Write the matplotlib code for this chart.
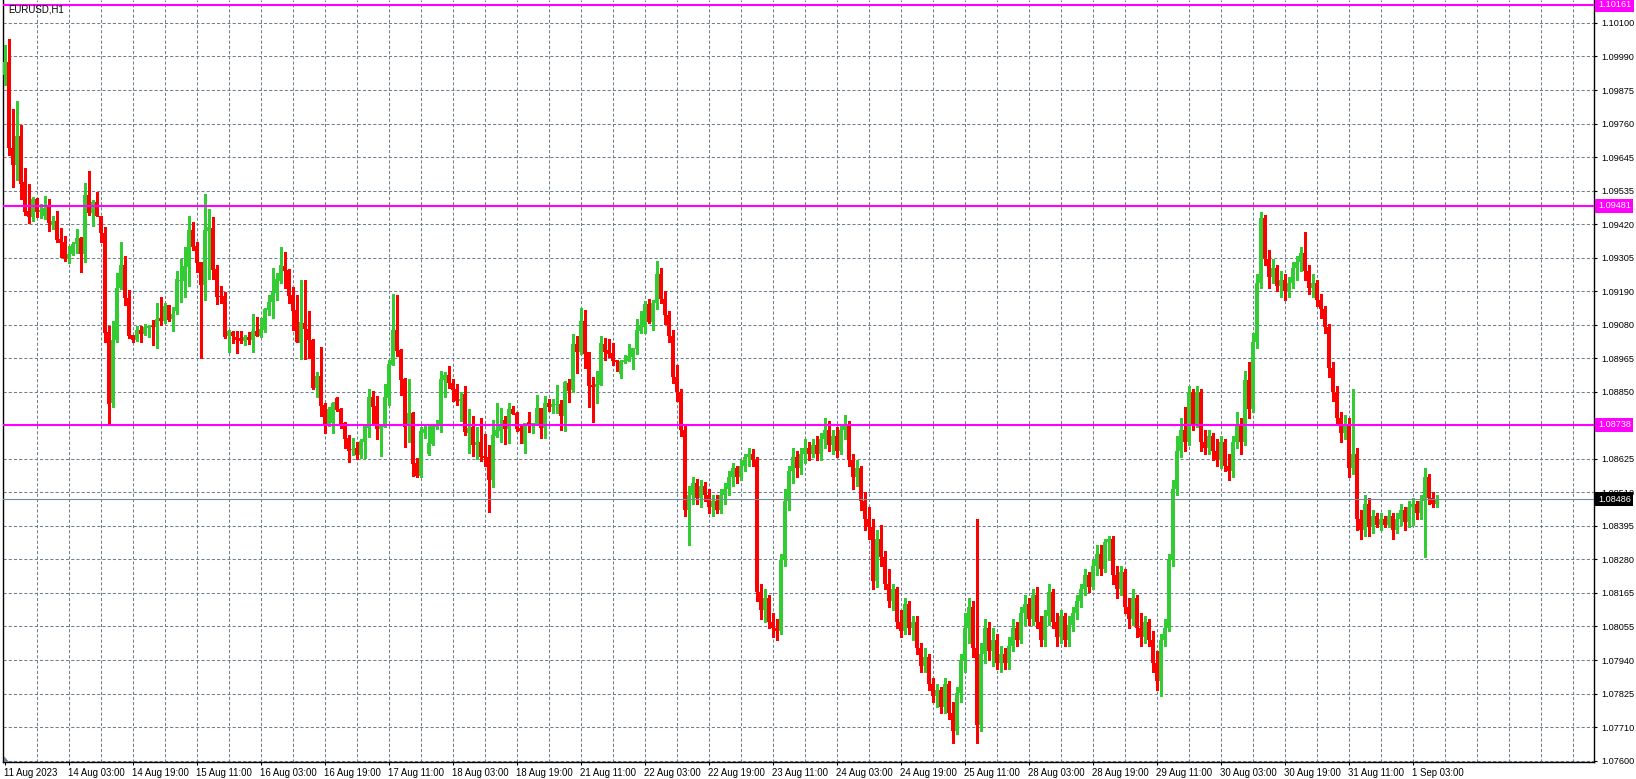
import matplotlib
matplotlib.use("Agg")
import matplotlib.pyplot as plt
import matplotlib.transforms as mtransforms
from matplotlib.patches import Polygon
import numpy as np

symbol_title = "EURUSD,H1"

date_labels = ["11 Aug 2023", "14 Aug 03:00", "14 Aug 19:00", "15 Aug 11:00", "16 Aug 03:00",
               "16 Aug 19:00", "17 Aug 11:00", "18 Aug 03:00", "18 Aug 19:00", "21 Aug 11:00",
               "22 Aug 03:00", "22 Aug 19:00", "23 Aug 11:00", "24 Aug 03:00", "24 Aug 19:00",
               "25 Aug 11:00", "28 Aug 03:00", "28 Aug 19:00", "29 Aug 11:00", "30 Aug 03:00",
               "30 Aug 19:00", "31 Aug 11:00", "1 Sep 03:00"]

# price scale labels, bottom to top (the one under the 1.08738 level tag is hidden)
price_tick_labels = ["1.07600", "1.07710", "1.07825", "1.07940", "1.08055", "1.08165", "1.08280",
                     "1.08395", "1.08510", "1.08625", "", "1.08850", "1.08965", "1.09080",
                     "1.09190", "1.09305", "1.09420", "1.09535", "1.09645", "1.09760", "1.09875",
                     "1.09990", "1.10100"]
price_scale_min = 1.07600
price_scale_max = 1.10100

level_lines = [1.10161, 1.09481, 1.08738]
bid_price = 1.08486

opens = [
    1.09923, 1.09969, 1.09677, 1.09618, 1.09717, 1.09561, 1.09462, 1.09443, 1.09503, 1.09460,
    1.09447, 1.09476, 1.09415, 1.09429, 1.09369, 1.09357, 1.09301, 1.09316, 1.09352, 1.09371,
    1.09316, 1.09517, 1.09457, 1.09492, 1.09446, 1.09387, 1.09052, 1.08813, 1.09027, 1.09203,
    1.09279, 1.09169, 1.09042, 1.09025, 1.09059, 1.09046, 1.09065, 1.09073, 1.09070, 1.09100,
    1.09091, 1.09144, 1.09096, 1.09124, 1.09225, 1.09225, 1.09274, 1.09398, 1.09344, 1.09289,
    1.09212, 1.09395, 1.09406, 1.09266, 1.09174, 1.09174, 1.09039, 1.09053, 1.09037, 1.09033,
    1.09022, 1.09037, 1.09027, 1.09057, 1.09040, 1.09059, 1.09127, 1.09155, 1.09186, 1.09226,
    1.09276, 1.09264, 1.09178, 1.09127, 1.09016, 1.09084, 1.09063, 1.09025, 1.08864, 1.08903,
    1.08805, 1.08739, 1.08743, 1.08828, 1.08790, 1.08743, 1.08692, 1.08652, 1.08658, 1.08635,
    1.08681, 1.08728, 1.08833, 1.08803, 1.08724, 1.08732, 1.08828, 1.08941, 1.09059, 1.08991,
    1.08893, 1.08735, 1.08779, 1.08607, 1.08565, 1.08709, 1.08639, 1.08672, 1.08732, 1.08737,
    1.08890, 1.08907, 1.08881, 1.08859, 1.08820, 1.08842, 1.08711, 1.08732, 1.08669, 1.08681,
    1.08632, 1.08628, 1.08551, 1.08700, 1.08718, 1.08754, 1.08724, 1.08791, 1.08779, 1.08726,
    1.08672, 1.08746, 1.08737, 1.08740, 1.08794, 1.08728, 1.08811, 1.08799, 1.08806, 1.08808,
    1.08768, 1.08881, 1.08856, 1.09012, 1.08986, 1.09090, 1.08986, 1.08874, 1.08867, 1.08873,
    1.09012, 1.08991, 1.08982, 1.08957, 1.08910, 1.08952, 1.08955, 1.08969, 1.08995, 1.09056,
    1.09070, 1.09147, 1.09087, 1.09150, 1.09250, 1.09165, 1.09110, 1.09040, 1.08900, 1.08850,
    1.08720, 1.08450, 1.08500, 1.08540, 1.08490, 1.08530, 1.08500, 1.08460, 1.08480, 1.08450,
    1.08500, 1.08520, 1.08560, 1.08590, 1.08560, 1.08600, 1.08630, 1.08640, 1.08620, 1.08170,
    1.08110, 1.08150, 1.08070, 1.08050, 1.08040, 1.08280, 1.08480, 1.08580, 1.08630, 1.08590,
    1.08640, 1.08660, 1.08640, 1.08670, 1.08640, 1.08690, 1.08720, 1.08670, 1.08700, 1.08650,
    1.08720, 1.08740, 1.08620, 1.08560, 1.08590, 1.08480, 1.08420, 1.08390, 1.08210, 1.08350,
    1.08290, 1.08200, 1.08140, 1.08180, 1.08070, 1.08040, 1.08130, 1.08050, 1.08070, 1.07980,
    1.07920, 1.07950, 1.07860, 1.07820, 1.07840, 1.07780, 1.07860, 1.07760, 1.07700, 1.07830,
    1.07940, 1.08050, 1.08120, 1.07980, 1.07720, 1.07960, 1.08050, 1.07970, 1.08010, 1.07930,
    1.07960, 1.07930, 1.07990, 1.08050, 1.08010, 1.08100, 1.08130, 1.08080, 1.08160, 1.08070,
    1.08010, 1.08090, 1.08170, 1.08070, 1.08020, 1.08090, 1.08010, 1.08060, 1.08100, 1.08140,
    1.08180, 1.08230, 1.08190, 1.08260, 1.08300, 1.08250, 1.08340, 1.08350, 1.08230, 1.08180,
    1.08240, 1.08120, 1.08080, 1.08150, 1.08050, 1.08020, 1.08070, 1.08010, 1.07930, 1.07870,
    1.08010, 1.08050, 1.08280, 1.08520, 1.08650, 1.08720, 1.08680, 1.08850, 1.08740, 1.08850,
    1.08680, 1.08660, 1.08700, 1.08650, 1.08620, 1.08680, 1.08600, 1.08580, 1.08680, 1.08740,
    1.08680, 1.08890, 1.08790, 1.09020, 1.09220, 1.09440, 1.09300, 1.09240, 1.09270, 1.09210,
    1.09230, 1.09190, 1.09220, 1.09270, 1.09290, 1.09320, 1.09260, 1.09200, 1.09220, 1.09160,
    1.09130, 1.09070, 1.08930, 1.08850, 1.08760, 1.08710, 1.08740, 1.08590, 1.08640, 1.08420,
    1.08380, 1.08470, 1.08390, 1.08430, 1.08400, 1.08420, 1.08400, 1.08430, 1.08380, 1.08420,
    1.08450, 1.08410, 1.08460, 1.08470, 1.08440, 1.08480, 1.08560, 1.08490, 1.08470,
]

highs = [
    1.10025, 1.10044, 1.09808, 1.09835, 1.09754, 1.09610, 1.09554, 1.09511, 1.09508, 1.09486,
    1.09513, 1.09503, 1.09446, 1.09462, 1.09406, 1.09378, 1.09344, 1.09356, 1.09401, 1.09375,
    1.09556, 1.09598, 1.09500, 1.09526, 1.09446, 1.09407, 1.09073, 1.09090, 1.09251, 1.09356,
    1.09309, 1.09195, 1.09044, 1.09073, 1.09074, 1.09078, 1.09076, 1.09093, 1.09152, 1.09170,
    1.09150, 1.09144, 1.09138, 1.09259, 1.09300, 1.09340, 1.09446, 1.09426, 1.09359, 1.09289,
    1.09520, 1.09469, 1.09441, 1.09279, 1.09208, 1.09189, 1.09058, 1.09057, 1.09056, 1.09056,
    1.09044, 1.09053, 1.09113, 1.09104, 1.09099, 1.09133, 1.09178, 1.09271, 1.09251, 1.09342,
    1.09322, 1.09266, 1.09206, 1.09178, 1.09229, 1.09229, 1.09124, 1.09028, 1.08918, 1.09003,
    1.08811, 1.08799, 1.08814, 1.08833, 1.08794, 1.08746, 1.08703, 1.08695, 1.08681, 1.08689,
    1.08737, 1.08861, 1.08852, 1.08835, 1.08737, 1.08876, 1.08958, 1.09180, 1.09178, 1.08995,
    1.08895, 1.08893, 1.08782, 1.08626, 1.08732, 1.08735, 1.08737, 1.08737, 1.08754, 1.08920,
    1.08916, 1.08937, 1.08893, 1.08876, 1.08848, 1.08871, 1.08791, 1.08768, 1.08732, 1.08762,
    1.08706, 1.08669, 1.08756, 1.08813, 1.08796, 1.08768, 1.08813, 1.08803, 1.08782, 1.08734,
    1.08745, 1.08782, 1.08745, 1.08839, 1.08796, 1.08835, 1.08825, 1.08825, 1.08873, 1.08822,
    1.08886, 1.08893, 1.09046, 1.09039, 1.09135, 1.09127, 1.08986, 1.08900, 1.08920, 1.09040,
    1.09031, 1.09029, 1.09016, 1.08957, 1.08957, 1.08974, 1.09012, 1.09000, 1.09096, 1.09124,
    1.09159, 1.09164, 1.09160, 1.09294, 1.09270, 1.09190, 1.09125, 1.09060, 1.08940, 1.08860,
    1.08740, 1.08530, 1.08560, 1.08555, 1.08550, 1.08545, 1.08520, 1.08500, 1.08500, 1.08520,
    1.08540, 1.08580, 1.08610, 1.08600, 1.08620, 1.08640, 1.08660, 1.08655, 1.08630, 1.08200,
    1.08180, 1.08160, 1.08100, 1.08080, 1.08300, 1.08520, 1.08600, 1.08660, 1.08650, 1.08660,
    1.08690, 1.08680, 1.08690, 1.08700, 1.08710, 1.08760, 1.08750, 1.08720, 1.08730, 1.08740,
    1.08770, 1.08750, 1.08640, 1.08620, 1.08600, 1.08510, 1.08460, 1.08420, 1.08380, 1.08400,
    1.08310, 1.08250, 1.08200, 1.08190, 1.08110, 1.08150, 1.08140, 1.08090, 1.08090, 1.08000,
    1.07980, 1.07960, 1.07880, 1.07860, 1.07850, 1.07880, 1.07870, 1.07800, 1.07850, 1.07960,
    1.08100, 1.08150, 1.08140, 1.08420, 1.08000, 1.08080, 1.08070, 1.08050, 1.08030, 1.07990,
    1.07980, 1.08020, 1.08080, 1.08070, 1.08120, 1.08160, 1.08150, 1.08180, 1.08190, 1.08090,
    1.08110, 1.08200, 1.08180, 1.08100, 1.08110, 1.08100, 1.08090, 1.08120, 1.08160, 1.08200,
    1.08250, 1.08240, 1.08280, 1.08330, 1.08330, 1.08350, 1.08360, 1.08360, 1.08260, 1.08260,
    1.08250, 1.08150, 1.08180, 1.08160, 1.08100, 1.08090, 1.08080, 1.08040, 1.07970, 1.08030,
    1.08080, 1.08300, 1.08550, 1.08700, 1.08760, 1.08800, 1.08870, 1.08860, 1.08870, 1.08860,
    1.08720, 1.08720, 1.08710, 1.08690, 1.08700, 1.08690, 1.08640, 1.08700, 1.08780, 1.08760,
    1.08920, 1.08950, 1.09050, 1.09250, 1.09460, 1.09450, 1.09330, 1.09300, 1.09280, 1.09260,
    1.09250, 1.09240, 1.09290, 1.09310, 1.09340, 1.09390, 1.09280, 1.09250, 1.09230, 1.09180,
    1.09140, 1.09080, 1.08950, 1.08870, 1.08780, 1.08770, 1.08760, 1.08860, 1.08660, 1.08450,
    1.08500, 1.08490, 1.08450, 1.08440, 1.08440, 1.08430, 1.08450, 1.08440, 1.08440, 1.08470,
    1.08460, 1.08480, 1.08490, 1.08480, 1.08500, 1.08590, 1.08570, 1.08510, 1.08500,
]

lows = [
    1.09890, 1.09652, 1.09545, 1.09568, 1.09505, 1.09449, 1.09423, 1.09430, 1.09443, 1.09440,
    1.09435, 1.09396, 1.09401, 1.09356, 1.09308, 1.09294, 1.09287, 1.09313, 1.09319, 1.09257,
    1.09291, 1.09449, 1.09413, 1.09447, 1.09358, 1.09017, 1.08743, 1.08797, 1.09019, 1.09197,
    1.09144, 1.09033, 1.09020, 1.09022, 1.09020, 1.09042, 1.09037, 1.09008, 1.08999, 1.09076,
    1.09082, 1.09091, 1.09057, 1.09112, 1.09153, 1.09172, 1.09209, 1.09330, 1.09257, 1.08965,
    1.09161, 1.09232, 1.09232, 1.09146, 1.09150, 1.09031, 1.08986, 1.09016, 1.08982, 1.09014,
    1.09008, 1.09011, 1.08986, 1.09040, 1.09037, 1.09054, 1.09110, 1.09099, 1.09161, 1.09220,
    1.09200, 1.09152, 1.09059, 1.09020, 1.08960, 1.08960, 1.08963, 1.08861, 1.08833, 1.08769,
    1.08711, 1.08735, 1.08711, 1.08786, 1.08728, 1.08661, 1.08613, 1.08635, 1.08622, 1.08624,
    1.08624, 1.08698, 1.08745, 1.08690, 1.08632, 1.08732, 1.08805, 1.08941, 1.08972, 1.08839,
    1.08664, 1.08681, 1.08565, 1.08562, 1.08562, 1.08694, 1.08636, 1.08669, 1.08724, 1.08715,
    1.08833, 1.08862, 1.08819, 1.08805, 1.08751, 1.08703, 1.08641, 1.08633, 1.08622, 1.08616,
    1.08598, 1.08443, 1.08526, 1.08698, 1.08681, 1.08673, 1.08677, 1.08773, 1.08718, 1.08677,
    1.08643, 1.08715, 1.08711, 1.08737, 1.08692, 1.08694, 1.08785, 1.08777, 1.08779, 1.08720,
    1.08718, 1.08816, 1.08850, 1.08915, 1.08977, 1.08932, 1.08799, 1.08748, 1.08813, 1.08873,
    1.08957, 1.08969, 1.08941, 1.08920, 1.08898, 1.08946, 1.08955, 1.08927, 1.08978, 1.09050,
    1.09050, 1.09082, 1.09060, 1.09130, 1.09150, 1.09080, 1.09020, 1.08880, 1.08820, 1.08700,
    1.08430, 1.08330, 1.08470, 1.08470, 1.08460, 1.08480, 1.08440, 1.08430, 1.08440, 1.08440,
    1.08470, 1.08500, 1.08530, 1.08540, 1.08550, 1.08580, 1.08600, 1.08600, 1.08140, 1.08080,
    1.08070, 1.08050, 1.08020, 1.08010, 1.08030, 1.08260, 1.08450, 1.08540, 1.08560, 1.08570,
    1.08610, 1.08620, 1.08630, 1.08620, 1.08620, 1.08660, 1.08650, 1.08640, 1.08630, 1.08640,
    1.08690, 1.08600, 1.08520, 1.08530, 1.08450, 1.08380, 1.08350, 1.08180, 1.08190, 1.08260,
    1.08180, 1.08120, 1.08110, 1.08050, 1.08020, 1.08030, 1.08030, 1.08010, 1.07960, 1.07900,
    1.07900, 1.07840, 1.07800, 1.07780, 1.07760, 1.07760, 1.07740, 1.07660, 1.07690, 1.07800,
    1.07900, 1.08000, 1.07950, 1.07660, 1.07700, 1.07930, 1.07940, 1.07920, 1.07910, 1.07900,
    1.07910, 1.07910, 1.07970, 1.07990, 1.08000, 1.08060, 1.08060, 1.08060, 1.08050, 1.07990,
    1.07990, 1.08060, 1.08050, 1.07990, 1.08000, 1.07990, 1.07990, 1.08040, 1.08080, 1.08120,
    1.08160, 1.08170, 1.08180, 1.08230, 1.08230, 1.08240, 1.08280, 1.08200, 1.08150, 1.08160,
    1.08100, 1.08050, 1.08060, 1.08020, 1.07990, 1.08000, 1.07990, 1.07900, 1.07840, 1.07820,
    1.07990, 1.08040, 1.08260, 1.08500, 1.08630, 1.08650, 1.08670, 1.08720, 1.08730, 1.08650,
    1.08640, 1.08640, 1.08620, 1.08600, 1.08590, 1.08580, 1.08550, 1.08560, 1.08660, 1.08640,
    1.08670, 1.08760, 1.08780, 1.09000, 1.09200, 1.09280, 1.09200, 1.09220, 1.09190, 1.09170,
    1.09160, 1.09170, 1.09200, 1.09230, 1.09260, 1.09230, 1.09180, 1.09170, 1.09140, 1.09100,
    1.09050, 1.08900, 1.08820, 1.08740, 1.08680, 1.08690, 1.08560, 1.08570, 1.08380, 1.08350,
    1.08360, 1.08360, 1.08370, 1.08390, 1.08380, 1.08390, 1.08390, 1.08350, 1.08370, 1.08400,
    1.08380, 1.08390, 1.08400, 1.08420, 1.08420, 1.08290, 1.08470, 1.08460, 1.08460,
]

closes = [
    1.09969, 1.09675, 1.09618, 1.09717, 1.09554, 1.09460, 1.09443, 1.09503, 1.09460, 1.09466,
    1.09474, 1.09421, 1.09430, 1.09364, 1.09355, 1.09301, 1.09318, 1.09352, 1.09371, 1.09316,
    1.09517, 1.09457, 1.09492, 1.09447, 1.09387, 1.09050, 1.08810, 1.09027, 1.09203, 1.09279,
    1.09169, 1.09040, 1.09025, 1.09059, 1.09046, 1.09068, 1.09073, 1.09068, 1.09095, 1.09090,
    1.09141, 1.09093, 1.09113, 1.09231, 1.09229, 1.09276, 1.09398, 1.09342, 1.09287, 1.09212,
    1.09398, 1.09409, 1.09263, 1.09172, 1.09172, 1.09035, 1.09056, 1.09039, 1.09025, 1.09022,
    1.09037, 1.09025, 1.09057, 1.09040, 1.09063, 1.09130, 1.09155, 1.09189, 1.09232, 1.09280,
    1.09259, 1.09176, 1.09125, 1.09020, 1.09087, 1.09063, 1.09025, 1.08864, 1.08904, 1.08803,
    1.08739, 1.08791, 1.08811, 1.08788, 1.08739, 1.08690, 1.08650, 1.08656, 1.08635, 1.08683,
    1.08734, 1.08833, 1.08799, 1.08724, 1.08735, 1.08833, 1.08944, 1.09059, 1.08989, 1.08890,
    1.08732, 1.08779, 1.08605, 1.08565, 1.08717, 1.08724, 1.08677, 1.08734, 1.08740, 1.08893,
    1.08907, 1.08881, 1.08856, 1.08820, 1.08825, 1.08715, 1.08726, 1.08669, 1.08681, 1.08628,
    1.08626, 1.08551, 1.08703, 1.08720, 1.08740, 1.08724, 1.08791, 1.08775, 1.08723, 1.08718,
    1.08743, 1.08735, 1.08743, 1.08794, 1.08728, 1.08811, 1.08799, 1.08808, 1.08808, 1.08768,
    1.08884, 1.08854, 1.09012, 1.08986, 1.09090, 1.08978, 1.08870, 1.08867, 1.08876, 1.09016,
    1.08986, 1.08978, 1.08955, 1.08950, 1.08955, 1.08957, 1.08971, 1.09000, 1.09059, 1.09073,
    1.09147, 1.09087, 1.09150, 1.09250, 1.09165, 1.09110, 1.09040, 1.08900, 1.08850, 1.08720,
    1.08450, 1.08500, 1.08540, 1.08490, 1.08530, 1.08500, 1.08460, 1.08480, 1.08450, 1.08500,
    1.08520, 1.08560, 1.08590, 1.08560, 1.08600, 1.08630, 1.08640, 1.08620, 1.08170, 1.08110,
    1.08150, 1.08070, 1.08050, 1.08040, 1.08280, 1.08480, 1.08580, 1.08630, 1.08590, 1.08640,
    1.08660, 1.08640, 1.08670, 1.08640, 1.08690, 1.08720, 1.08670, 1.08700, 1.08650, 1.08720,
    1.08740, 1.08620, 1.08560, 1.08590, 1.08480, 1.08420, 1.08390, 1.08210, 1.08350, 1.08290,
    1.08200, 1.08140, 1.08180, 1.08070, 1.08040, 1.08130, 1.08050, 1.08070, 1.07980, 1.07920,
    1.07950, 1.07860, 1.07820, 1.07840, 1.07780, 1.07860, 1.07760, 1.07700, 1.07830, 1.07940,
    1.08050, 1.08120, 1.07980, 1.07720, 1.07960, 1.08050, 1.07970, 1.08010, 1.07930, 1.07960,
    1.07930, 1.07990, 1.08050, 1.08010, 1.08100, 1.08130, 1.08080, 1.08160, 1.08070, 1.08010,
    1.08090, 1.08170, 1.08070, 1.08020, 1.08090, 1.08010, 1.08060, 1.08100, 1.08140, 1.08180,
    1.08230, 1.08190, 1.08260, 1.08300, 1.08250, 1.08340, 1.08350, 1.08230, 1.08180, 1.08240,
    1.08120, 1.08080, 1.08150, 1.08050, 1.08020, 1.08070, 1.08010, 1.07930, 1.07870, 1.08010,
    1.08050, 1.08280, 1.08520, 1.08650, 1.08720, 1.08680, 1.08850, 1.08740, 1.08850, 1.08680,
    1.08660, 1.08700, 1.08650, 1.08620, 1.08680, 1.08600, 1.08580, 1.08680, 1.08740, 1.08680,
    1.08890, 1.08790, 1.09020, 1.09220, 1.09440, 1.09300, 1.09240, 1.09270, 1.09210, 1.09230,
    1.09190, 1.09220, 1.09270, 1.09290, 1.09320, 1.09260, 1.09200, 1.09220, 1.09160, 1.09130,
    1.09070, 1.08930, 1.08850, 1.08760, 1.08710, 1.08740, 1.08590, 1.08640, 1.08420, 1.08380,
    1.08470, 1.08390, 1.08430, 1.08400, 1.08420, 1.08400, 1.08430, 1.08380, 1.08420, 1.08450,
    1.08410, 1.08460, 1.08470, 1.08440, 1.08480, 1.08560, 1.08490, 1.08470, 1.08486,
]

# ---------------------------------------------------------------- layout
W, H = 1636, 779
FONT = "Liberation Sans"
fig = plt.figure(figsize=(W / 100, H / 100), dpi=100)
fig.patch.set_facecolor("white")
ax_left, ax_right, ax_bottom = 3, 1594, 17
ax = fig.add_axes([ax_left / W, ax_bottom / H, (ax_right - ax_left) / W, (H - ax_bottom) / H])
ax.set_facecolor("white")

o = np.array(opens); h = np.array(highs); l = np.array(lows); c = np.array(closes)
n = min(len(o), len(h), len(l), len(c))
o, h, l, c = o[:n], h[:n], l[:n], c[:n]
x = np.arange(n)

tick_vals = np.linspace(price_scale_min, price_scale_max, len(price_tick_labels))
step = tick_vals[1] - tick_vals[0]
px_per_price = 33.53 / step
y_bottom = price_scale_min - 1.4 / px_per_price
y_top = price_scale_min + 760.6 / px_per_price
ax.set_ylim(y_bottom, y_top)
ax.set_xlim(-0.375, -0.375 + (ax_right - ax_left) / 4.0)

grid_col = "#708090"
for tv in tick_vals:
    ax.axhline(tv, color=grid_col, lw=0.75, ls=(0, (3, 2)), zorder=1)
for k in range(1, 60):
    gx = 8 * k
    if gx > ax.get_xlim()[1]:
        break
    ax.axvline(gx, color=grid_col, lw=0.75, ls=(0, (3, 2)), zorder=1)

# candles
bull = "#32CD32"
bear = "#FF0000"
colors = [bull if cc >= oo else bear for oo, cc in zip(o, c)]
bottoms = np.minimum(o, c)
heights = np.maximum(np.abs(c - o), 1.0 / px_per_price)
ax.vlines(x, l, h, colors=colors, linewidth=0.75, zorder=3, antialiased=False)
ax.bar(x, heights, bottom=bottoms, width=0.75, color=colors, linewidth=0, zorder=4,
       antialiased=False)

# level lines
for lv in level_lines:
    ax.axhline(lv, color="#FF00FF", lw=1.5, zorder=5)
ax.axhline(bid_price, color="#778899", lw=0.8, zorder=5)

trans = mtransforms.blended_transform_factory(ax.transAxes, ax.transData)
tag_x = 1.0 + 4 / (ax_right - ax_left)
for lv in level_lines:
    ax.text(tag_x, lv, f"{lv:.5f}", transform=trans, ha="left",
            va="center", color="white", fontsize=6.6, family=FONT, zorder=10, clip_on=False,
            bbox=dict(boxstyle="square,pad=0.28", fc="#FF00FF", ec="none"))
ax.text(tag_x, bid_price, f"{bid_price:.5f}", transform=trans,
        ha="left", va="center", color="white", fontsize=6.6, family=FONT, zorder=10,
        clip_on=False, bbox=dict(boxstyle="square,pad=0.28", fc="black", ec="none"))

# axes / ticks
for side in ["left", "right", "bottom"]:
    ax.spines[side].set_color("black")
    ax.spines[side].set_linewidth(1.0)
ax.spines["top"].set_visible(False)

ax.yaxis.tick_right()
ax.set_yticks(tick_vals)
ax.set_yticklabels(price_tick_labels, family=FONT, fontsize=6.6)
ax.tick_params(axis="y", direction="out", length=2.5, width=0.8, pad=2.5, colors="black")

date_pos = [16 * k for k in range(len(date_labels))]
ax.set_xticks(date_pos)
ax.set_xticklabels(date_labels, family=FONT, fontsize=6.9, ha="left")
ax.tick_params(axis="x", direction="out", length=2.5, width=0.8, pad=1.5, colors="black")

fig.text(8 / W, 1 - 4 / H, symbol_title, ha="left", va="top", fontsize=6.9, family=FONT,
         color="black")

# small grey corner marker at the bottom-left of the chart
fig.patches.append(Polygon([[4, 762], [4, 756], [9, 762]], closed=True, fc="#708090", ec="none",
                           transform=mtransforms.Affine2D().scale(1, -1).translate(0, H)
                           + mtransforms.IdentityTransform(), figure=fig))

fig.savefig("out.png", dpi=100, facecolor="white")
